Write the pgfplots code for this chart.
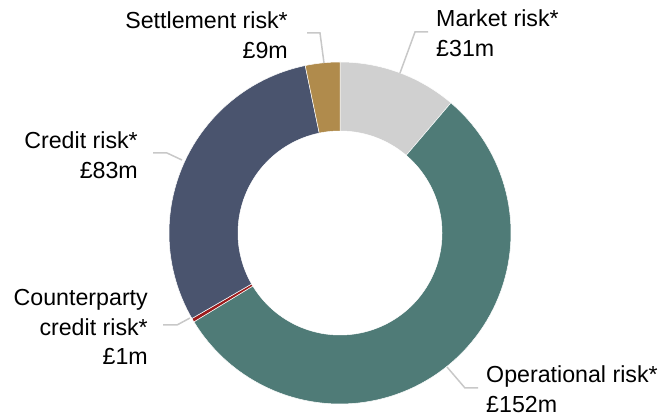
\documentclass[border=0pt]{standalone}
\usepackage{pgfplots}
\usepackage{pgfplotstable}
\pgfplotsset{compat=1.18}
\usepackage{fontspec}
\setmainfont{Liberation Sans}
\definecolor{mkt}{HTML}{D0D0D0}
\definecolor{ops}{HTML}{4F7B77}
\definecolor{cpty}{HTML}{9B1B1B}
\definecolor{cred}{HTML}{4A546E}
\definecolor{sett}{HTML}{B08B4C}
\definecolor{lead}{HTML}{C8C8C8}
\pgfplotstableread{
label value col
Market 31 mkt
Operational 152 ops
Counterparty 1 cpty
Credit 83 cred
Settlement 9 sett
}\data
\begin{document}
\begin{tikzpicture}
\begin{axis}[
  scale only axis, width=665bp, height=417bp,
  xmin=0, xmax=665, ymin=0, ymax=417,
  hide axis, clip=false,
]
\coordinate (bl) at (axis cs:0,0);
\coordinate (tr) at (axis cs:665,417);
% total
\def\tot{0}
\pgfplotsforeachungrouped \i in {0,...,4}{%
  \pgfplotstablegetelem{\i}{value}\of\data
  \pgfmathsetmacro\newtot{\tot+\pgfplotsretval}%
  \global\let\tot\newtot
}
\def\cum{0}
\pgfplotsforeachungrouped \i in {0,...,4}{%
  \pgfplotstablegetelem{\i}{value}\of\data \let\v\pgfplotsretval
  \pgfplotstablegetelem{\i}{col}\of\data \let\c\pgfplotsretval
  \pgfmathsetmacro\aS{90-(\cum/\tot)*360}%
  \pgfmathsetmacro\cumnew{\cum+\v}%
  \pgfmathsetmacro\aE{90-(\cumnew/\tot)*360}%
  \global\let\cum\cumnew
  \edef\temp{\noexpand\addplot[fill=\c, draw=white, line width=0.5bp, domain=\aE:\aS, samples=90, no markers] ({340+171*cos(x)}, {184+171*sin(x)}) -- (axis cs:340,184) -- cycle;}%
  \temp
}
\addplot[fill=white, draw=white, line width=0.5bp, domain=0:360, samples=180, no markers] ({340+102*cos(x)}, {184+102*sin(x)}) -- cycle;
% leader lines
\addplot[lead, line width=1.5bp, no markers] coordinates {(307,384) (320,384) (324,354)};
\addplot[lead, line width=1.5bp, no markers] coordinates {(428,385) (415,385) (400,344)};
\addplot[lead, line width=1.5bp, no markers] coordinates {(153,264) (167,264) (182,257)};
\addplot[lead, line width=1.5bp, no markers] coordinates {(163,92) (177,92) (190,99)};
\addplot[lead, line width=1.5bp, no markers] coordinates {(478,29) (465,29) (447,50)};
% labels
\tikzset{lbl/.style={inner sep=0pt, font=\fontsize{23.2bp}{29.5bp}\selectfont}}
\node[lbl, anchor=east, align=right] at (axis cs:288,382) {Settlement risk*\\\pounds9m};
\node[lbl, anchor=west, align=left] at (axis cs:436,384) {Market risk*\\\pounds31m};
\node[lbl, anchor=east, align=right] at (axis cs:138,262) {Credit risk*\\\pounds83m};
\node[lbl, anchor=east, align=right] at (axis cs:148,90) {Counterparty\\credit risk*\\\pounds1m};
\node[lbl, anchor=west, align=left] at (axis cs:486,28) {Operational risk*\\\pounds152m};
\end{axis}
\pgfresetboundingbox
\path[use as bounding box] (bl) rectangle (tr);
\end{tikzpicture}
\end{document}
